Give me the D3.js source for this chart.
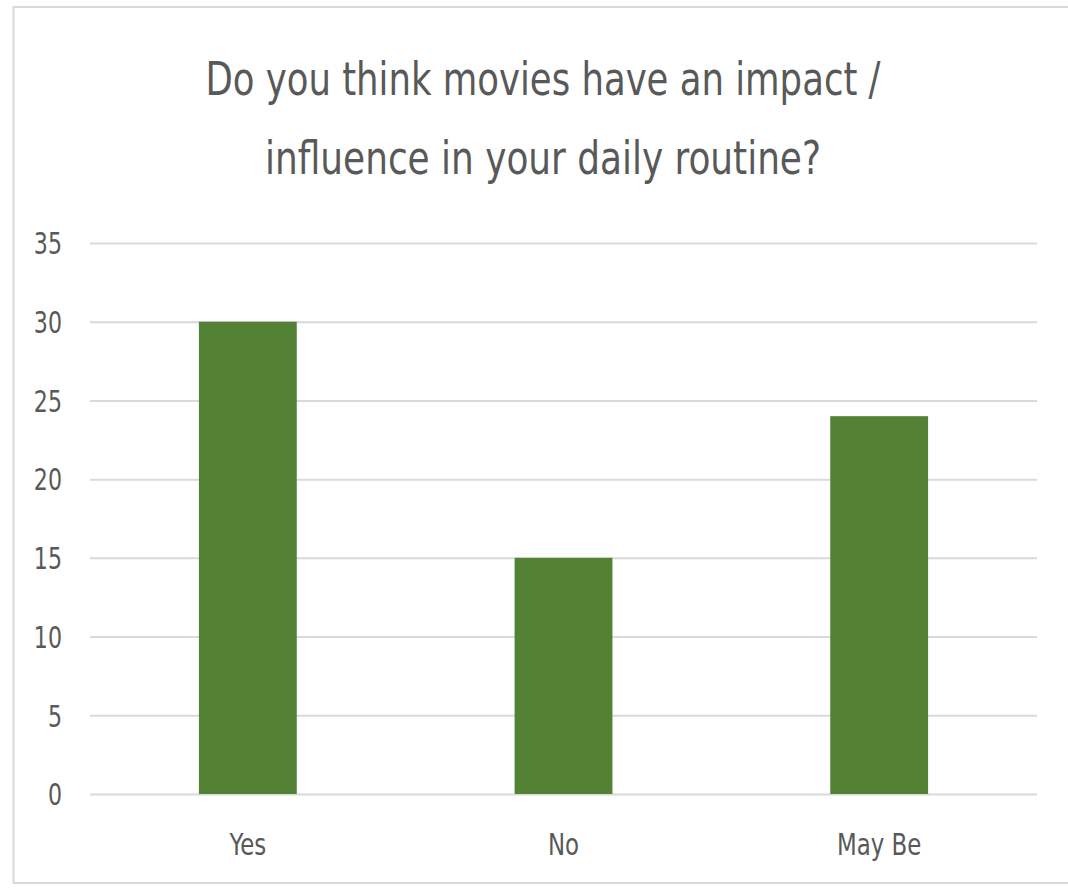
<!DOCTYPE html>
<html>
<head>
<meta charset="utf-8">
<script src="https://cdn.jsdelivr.net/npm/d3@7"></script>
<style>
  html, body { margin: 0; padding: 0; background: #fff; }
  svg { display: block; }
</style>
</head>
<body>
<svg id="chart" width="1068" height="892"></svg>
<script>
const titleLines = ["Do you think movies have an impact /", "influence in your daily routine?"];
const categories = ["Yes", "No", "May Be"];
const values = [30, 15, 24];
const yTicks = [0, 5, 10, 15, 20, 25, 30, 35];

const svg = d3.select("#chart");
const fontFam = "'DejaVu Sans Condensed', 'DejaVu Sans', sans-serif";
const textColor = "#595959";

// frame (right edge runs off the picture)
svg.append("rect")
  .attr("x", 13.5).attr("y", 7)
  .attr("width", 1100).attr("height", 876)
  .attr("fill", "#fff").attr("stroke", "#d9d9d9").attr("stroke-width", 2);

const plot = { left: 90, right: 1037, top: 243, bottom: 794 };

const x = d3.scaleBand()
  .domain(categories)
  .range([plot.left, plot.right])
  .paddingInner(0.69)
  .paddingOuter(0.345);

const y = d3.scaleLinear()
  .domain([0, 35])
  .range([plot.bottom, plot.top]);

function squeeze(sel, k) {
  sel.each(function () {
    const w = this.getComputedTextLength();
    d3.select(this).attr("textLength", w * k).attr("lengthAdjust", "spacingAndGlyphs");
  });
}

// gridlines + y labels
const yAxis = d3.axisLeft(y)
  .tickValues(yTicks)
  .tickSize(-(plot.right - plot.left))
  .tickPadding(28)
  .tickFormat(d3.format("d"));

const gy = svg.append("g")
  .attr("transform", `translate(${plot.left},0)`)
  .call(yAxis);
gy.select(".domain").remove();
gy.selectAll(".tick line").attr("stroke", "#d9d9d9").attr("stroke-width", 2);
gy.selectAll(".tick text")
  .attr("fill", textColor)
  .attr("dy", "0.36em")
  .style("font-family", fontFam)
  .style("font-size", "30px")
  .call(squeeze, 0.82);

// bars
svg.append("g").selectAll("rect")
  .data(categories.map((c, i) => ({ c, v: values[i] })))
  .join("rect")
  .attr("x", d => x(d.c))
  .attr("width", x.bandwidth())
  .attr("y", d => y(d.v))
  .attr("height", d => y(0) - y(d.v))
  .attr("fill", "#548235");

// x labels
const xAxis = d3.axisBottom(x).tickSize(0).tickPadding(61);
const gx = svg.append("g")
  .attr("transform", `translate(0,${plot.bottom})`)
  .call(xAxis);
gx.select(".domain").remove();
gx.selectAll(".tick text")
  .attr("fill", textColor)
  .attr("dy", "0")
  .style("font-family", fontFam)
  .style("font-size", "31px")
  .call(squeeze, 0.82);

// title
const titleWidths = [675, 556];
svg.append("g").selectAll("text")
  .data(titleLines)
  .join("text")
  .attr("x", 543)
  .attr("y", (d, i) => 95 + i * 79)
  .attr("text-anchor", "middle")
  .attr("textLength", (d, i) => titleWidths[i])
  .attr("lengthAdjust", "spacingAndGlyphs")
  .attr("fill", textColor)
  .style("font-family", fontFam)
  .style("font-size", "47px")
  .text(d => d);
</script>
</body>
</html>
